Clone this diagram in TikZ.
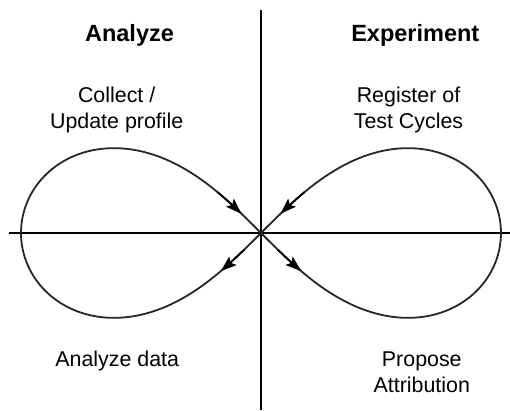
\documentclass[tikz,border=0pt]{standalone}
\usepackage{fontspec}
\setmainfont{Liberation Sans}
\usetikzlibrary{arrows.meta}
\begin{document}
\begin{tikzpicture}[x=1pt,y=1pt,
  axis/.style={line width=2pt,black},
  loop/.style={line width=1.8pt,black!85},
  tipped/.style={line width=1.8pt,black,-{Stealth[length=16pt,width=11pt,inset=3pt]}},
  head/.style={font=\fontsize{23.5}{28}\selectfont\bfseries,anchor=base,inner sep=0pt},
  lbl/.style={font=\fontsize{21.4}{25.6}\selectfont,anchor=base,inner sep=0pt}]
\useasboundingbox (-261,-177) rectangle (249,233);
% axes
\coordinate (vtop) at (0,223);
\coordinate (vbot) at (0,-177);
\coordinate (hl) at (-252,0);
\coordinate (hr) at (249,0);
\draw[axis] (vtop) -- (vbot);
\draw[axis] (hl) -- (hr);
% lemniscate
\draw[loop] plot[domain=0:360,samples=240,smooth]
  ({240*cos(\x)/(1+sin(\x)*sin(\x))},{240*sin(\x)*cos(\x)/(1+sin(\x)*sin(\x))}) -- cycle;
% arrows
\draw[tipped] plot[domain=70:80.8,samples=12,smooth]
  ({240*cos(\x)/(1+sin(\x)*sin(\x))},{240*sin(\x)*cos(\x)/(1+sin(\x)*sin(\x))});
\draw[tipped] plot[domain=98:108.6,samples=12,smooth]
  ({240*cos(\x)/(1+sin(\x)*sin(\x))},{240*sin(\x)*cos(\x)/(1+sin(\x)*sin(\x))});
\draw[tipped] plot[domain=250:260.8,samples=12,smooth]
  ({240*cos(\x)/(1+sin(\x)*sin(\x))},{240*sin(\x)*cos(\x)/(1+sin(\x)*sin(\x))});
\draw[tipped] plot[domain=278:288.6,samples=12,smooth]
  ({240*cos(\x)/(1+sin(\x)*sin(\x))},{240*sin(\x)*cos(\x)/(1+sin(\x)*sin(\x))});
% headings
\node[head] (hA) at (-131.5,191.3) {Analyze};
\node[head] (hE) at (154.3,191.3) {Experiment};
% labels
\node[lbl] (c1) at (-144.3,130.3) {Collect /};
\node[lbl] (c2) at (-144.3,104.7) {Update profile};
\node[lbl] (r1) at (147.5,130.3) {Register of};
\node[lbl] (r2) at (147.5,104.7) {Test Cycles};
\node[lbl] (ad) at (-143.8,-133.7) {Analyze data};
\node[lbl] (p1) at (160.8,-133.7) {Propose};
\node[lbl] (p2) at (160.8,-159.7) {Attribution};
\end{tikzpicture}
\end{document}
